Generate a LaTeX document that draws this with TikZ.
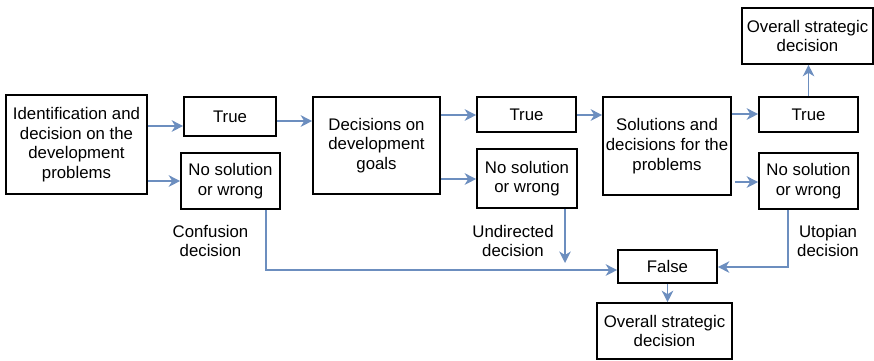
\documentclass[tikz,border=0pt]{standalone}
\usepackage{fontspec}
\setmainfont{Liberation Sans}
\usetikzlibrary{arrows.meta}
\definecolor{linkblue}{HTML}{6C8EBF}
\begin{document}
\begin{tikzpicture}[x=1pt,y=-1pt,
  font=\fontsize{16.8}{19.7}\selectfont,
  box/.style={draw=black,line width=1.6pt,align=center,inner sep=0pt,fill=white},
  note/.style={align=center,inner sep=0pt},
  link/.style={draw=linkblue,line width=1.6pt,-{Stealth[length=11.5pt,width=11.5pt,inset=3.5pt]}}]
\useasboundingbox (0,0) rectangle (874,360);

% main decision stages
\node[box,minimum width=141,minimum height=99] (A) at (76.5,144.5)
  {Identification and\\decision on the\\development\\problems};
\node[box,minimum width=127,minimum height=97] (B) at (376.5,145.5)
  {Decisions on\\development\\goals};
\node[box,minimum width=128,minimum height=98] (C) at (667,146)
  {Solutions and\\decisions for the\\problems};

% outcomes of each stage
\node[box,minimum width=92,minimum height=39] (T1) at (230,116.5) {True};
\node[box,minimum width=99,minimum height=56] (N1) at (230.5,181) {No solution\\or wrong};
\node[box,minimum width=99,minimum height=35] (T2) at (526.5,114.5) {True};
\node[box,minimum width=100,minimum height=59] (N2) at (527,178.5) {No solution\\or wrong};
\node[box,minimum width=99,minimum height=35] (T3) at (808.5,114.5) {True};
\node[box,minimum width=99,minimum height=56] (N3) at (808.5,181) {No solution\\or wrong};

% final results
\node[box,minimum width=131,minimum height=56] (Top) at (807.5,36) {Overall strategic\\decision};
\node[box,minimum width=99,minimum height=33] (F) at (667.5,266.5) {False};
\node[box,minimum width=135,minimum height=56] (Bot) at (664.5,331) {Overall strategic\\decision};

% labels of the failure paths
\node[note] (L1) at (210.5,241) {Confusion\\decision};
\node[note] (L2) at (513,241) {Undirected\\decision};
\node[note] (L3) at (828,241) {Utopian\\decision};

% free ends
\coordinate (c3) at (735,182);
\coordinate (u) at (565,263);

% connectors
\draw[link] (A.east |- 0,126) -- (T1.west |- 0,126);
\draw[link] (A.east |- 0,181) -- (N1.west |- 0,181);
\draw[link] (T1.east |- 0,121) -- (B.west |- 0,121);
\draw[link] (B.east |- 0,115) -- (T2.west |- 0,115);
\draw[link] (B.east |- 0,179) -- (N2.west |- 0,179);
\draw[link] (T2.east |- 0,115) -- (C.west |- 0,115);
\draw[link] (C.east |- 0,114) -- (T3.west |- 0,114);
\draw[link] (c3) -- (N3.west |- c3);
\draw[link] (T3.north) -- (T3.north |- Top.south);
\draw[link] (N1.south -| 266,0) -- (266,270) -- (F.west |- 0,270);
\draw[link] (N2.south -| u) -- (u);
\draw[link] (N3.south -| 788,0) -- (788,267) -- (F.east |- 0,267);
\draw[link] (F.south) -- (F.south |- Bot.north);
\end{tikzpicture}
\end{document}
